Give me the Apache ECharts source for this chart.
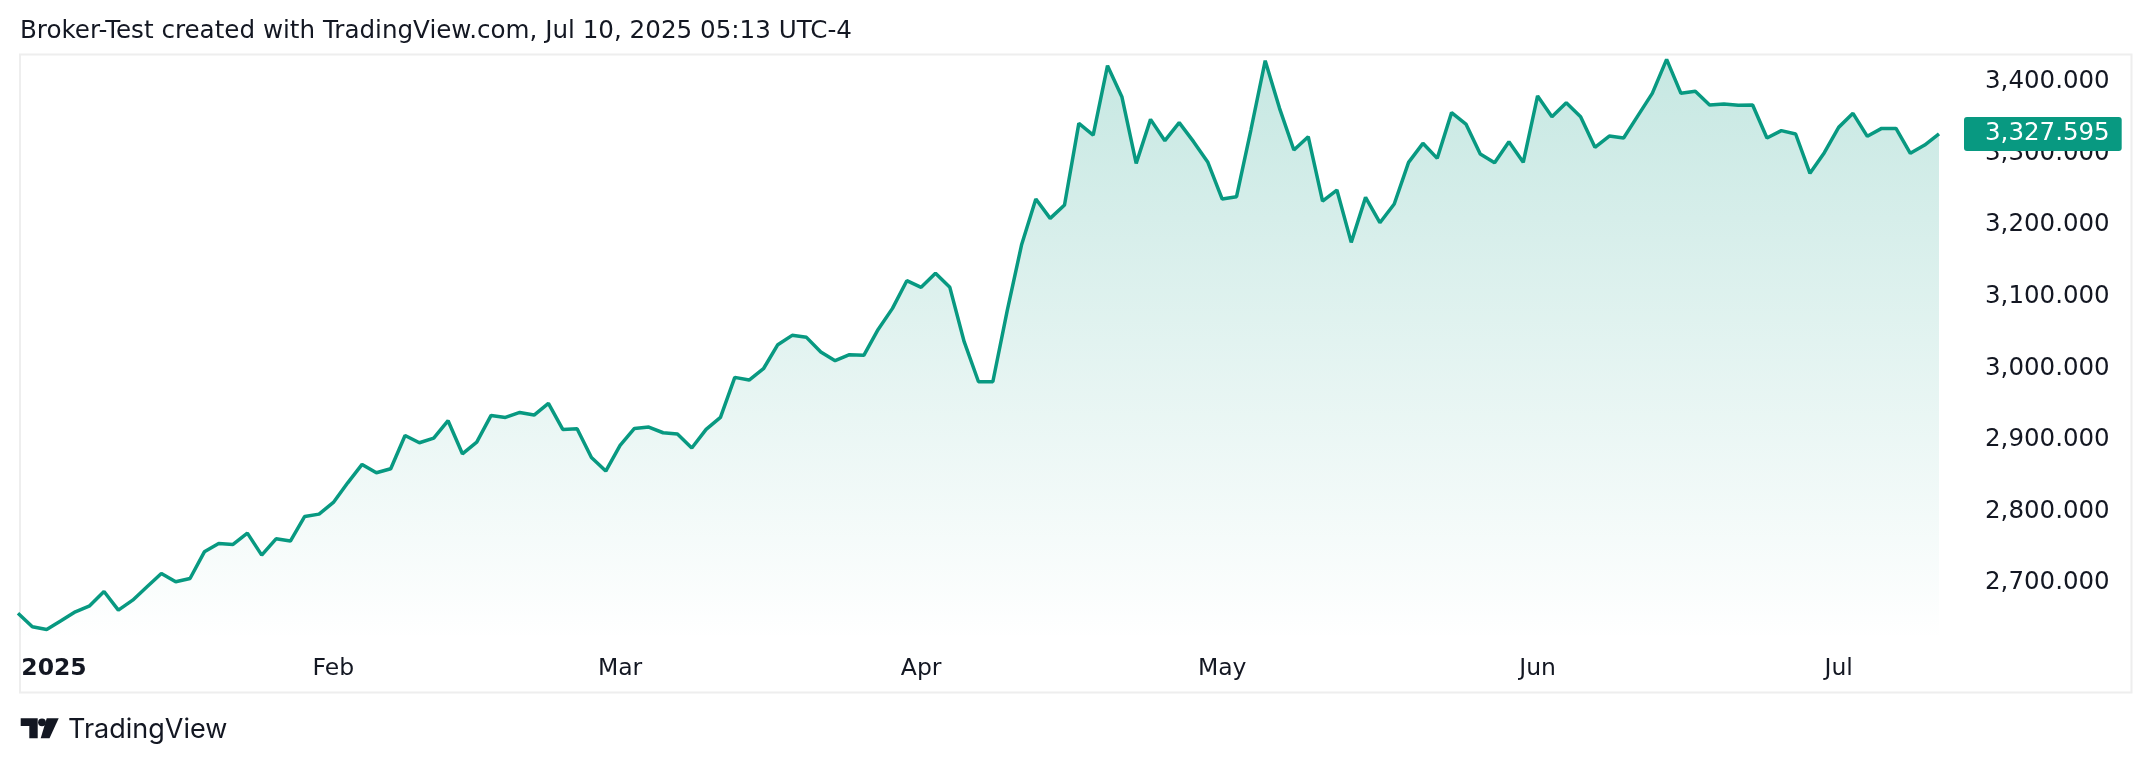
<!DOCTYPE html>
<html><head><meta charset="utf-8">
<script src="https://cdn.jsdelivr.net/npm/echarts@6/dist/echarts.min.js"></script>
<style>html,body{margin:0;padding:0;background:#fff}#c{width:2152px;height:764px}</style>
</head><body><div id="c"></div><script>
// trading days per month (2025)
const janDays=[2,3,6,7,8,9,10,13,14,15,16,17,20,21,22,23,24,27,28,29,30,31];
const febDays=[3,4,5,6,7,10,11,12,13,14,17,18,19,20,21,24,25,26,27,28];
const marDays=[3,4,5,6,7,10,11,12,13,14,17,18,19,20,21,24,25,26,27,28,31];
const aprDays=[1,2,3,4,7,8,9,10,11,14,15,16,17,21,22,23,24,25,28,29,30];
const mayDays=[1,2,5,6,7,8,9,12,13,14,15,16,19,20,21,22,23,26,27,28,29,30];
const junDays=[2,3,4,5,6,9,10,11,12,13,16,17,18,19,20,23,24,25,26,27,30];
const julDays=[1,2,3,4,7,8,9,10];
const monthLabels=['2025','Feb','Mar','Apr','May','Jun','Jul'];
const closes=[
2657.4,2638.3,2634.6,2646.7,2659.3,2667.7,2687.8,2661.7,2675.6,2694.3,
2712.9,2701.3,2705.9,2743.2,2754.9,2753.5,2769.3,2738.6,2761.4,2758.2,
2792.7,2795.9,2812.2,2839.7,2865.4,2853.7,2859.3,2905.9,2895.7,2902.2,
2926.5,2880.3,2896.6,2933.9,2931.1,2938.1,2934.4,2950.8,2914.4,2915.3,
2875.2,2856.1,2892.0,2915.8,2917.6,2909.7,2907.9,2888.3,2914.4,2931.2,
2987.1,2983.4,2999.2,3032.8,3045.9,3043.1,3022.5,3010.4,3018.8,3017.9,
3054.2,3083.6,3122.3,3113.0,3132.6,3113.0,3037.0,2981.0,2981.0,3080.0,
3172.2,3236.5,3209.5,3228.1,3342.3,3326.0,3423.0,3379.6,3286.4,3347.9,
3318.1,3343.3,3316.7,3287.8,3236.5,3239.8,3333.0,3430.0,3363.3,3305.0,
3323.7,3233.7,3249.1,3175.9,3238.8,3203.4,3229.5,3287.8,3314.4,3293.4,
3357.3,3341.4,3299.4,3287.3,3316.7,3287.8,3380.6,3351.7,3371.2,3351.7,
3308.8,3324.6,3321.8,3353.1,3384.3,3431.8,3384.3,3387.1,3368.0,3369.4,
3367.5,3368.0,3321.8,3332.1,3327.4,3272.4,3301.3,3336.7,3356.3,3324.2,
3335.3,3335.3,3300.4,3312.0,3327.595];
const yTicks=[2700,2800,2900,3000,3100,3200,3300,3400];
const titleText='Broker-Test created with TradingView.com, Jul 10, 2025 05:13 UTC-4';

const monthDays=[janDays,febDays,marDays,aprDays,mayDays,junDays,julDays];
const dates=[];
monthDays.forEach((days,m)=>days.forEach(d=>dates.push('2025-'+String(m+1).padStart(2,'0')+'-'+String(d).padStart(2,'0'))));
const lastPrice=closes[closes.length-1];
const fmt=v=>Number(v).toLocaleString('en-US',{minimumFractionDigits:3,maximumFractionDigits:3});
const FONT='DejaVu Sans';
const TXT='#131722';
const GREEN='#089981';

const chart=echarts.init(document.getElementById('c'),null,{renderer:'canvas'});
chart.setOption({
  backgroundColor:'#ffffff',
  animation:false,
  textStyle:{fontFamily:FONT},
  grid:{left:18,right:213,top:55,bottom:128,containLabel:false},
  xAxis:{
    type:'category',data:dates,boundaryGap:false,
    axisLine:{show:false},axisTick:{show:false},splitLine:{show:false},
    axisLabel:{
      margin:21,fontSize:23.5,color:TXT,fontFamily:FONT,
      interval:(i)=>i===0||dates[i].slice(5,7)!==dates[i-1].slice(5,7),
      formatter:(v)=>{const m=+v.slice(5,7);return m===1?'{y|'+monthLabels[0]+'}':'{m|'+monthLabels[m-1]+'}';},
      rich:{
        y:{fontSize:23.5,fontWeight:'bold',color:TXT,fontFamily:FONT,padding:[0,0,0,72]},
        m:{fontSize:23.5,color:TXT,fontFamily:FONT}
      }
    }
  },
  yAxis:{
    type:'value',position:'right',min:2625.5,max:3437.9,
    axisLine:{show:false},axisTick:{show:false},splitLine:{show:false},
    axisLabel:{customValues:yTicks,align:'left',margin:46,fontSize:24.5,color:TXT,fontFamily:FONT,formatter:fmt}
  },
  series:[{
    type:'line',data:closes,symbol:'none',z:3,
    lineStyle:{color:GREEN,width:3.5},
    itemStyle:{color:GREEN},
    areaStyle:{color:{type:'linear',x:0,y:55,x2:0,y2:640,global:true,colorStops:[
      {offset:0,color:'rgba(8,153,129,0.33)'},{offset:1,color:'rgba(8,153,129,0.0)'}]}},
    markLine:{
      silent:true,symbol:'none',animation:false,
      lineStyle:{width:0,color:'rgba(0,0,0,0)'},
      data:[{yAxis:lastPrice}],
      label:{show:true,position:'end',distance:25,formatter:()=>fmt(lastPrice),
        color:'#ffffff',fontSize:24.5,fontFamily:FONT,backgroundColor:GREEN,
        padding:[5,12,5,21],borderRadius:3,lineHeight:24}
    }
  }],
  graphic:[
    {type:'rect',z:-1,shape:{x:20,y:54.5,width:2111.5,height:638},style:{fill:'none',stroke:'#eeeeee',lineWidth:2}},
    {type:'text',x:20,y:32,style:{text:titleText,fontSize:24.6,fontFamily:FONT,fill:TXT,verticalAlign:'middle',align:'left'}},
    {type:'polygon',shape:{points:[[20.7,718.3],[37.7,718.3],[37.7,738.3],[29.3,738.3],[29.3,726],[20.7,726]]},style:{fill:TXT}},
    {type:'circle',shape:{cx:42,cy:722.3,r:3.9},style:{fill:TXT}},
    {type:'polygon',shape:{points:[[46.7,718.3],[58.7,718.3],[49.5,738.3],[40.7,738.3]]},style:{fill:TXT}},
    {type:'text',x:68,y:730,style:{text:'TradingView',fontSize:27,fontFamily:'Inter',fill:TXT,verticalAlign:'middle',align:'left'}}
  ]
});
</script></body></html>
